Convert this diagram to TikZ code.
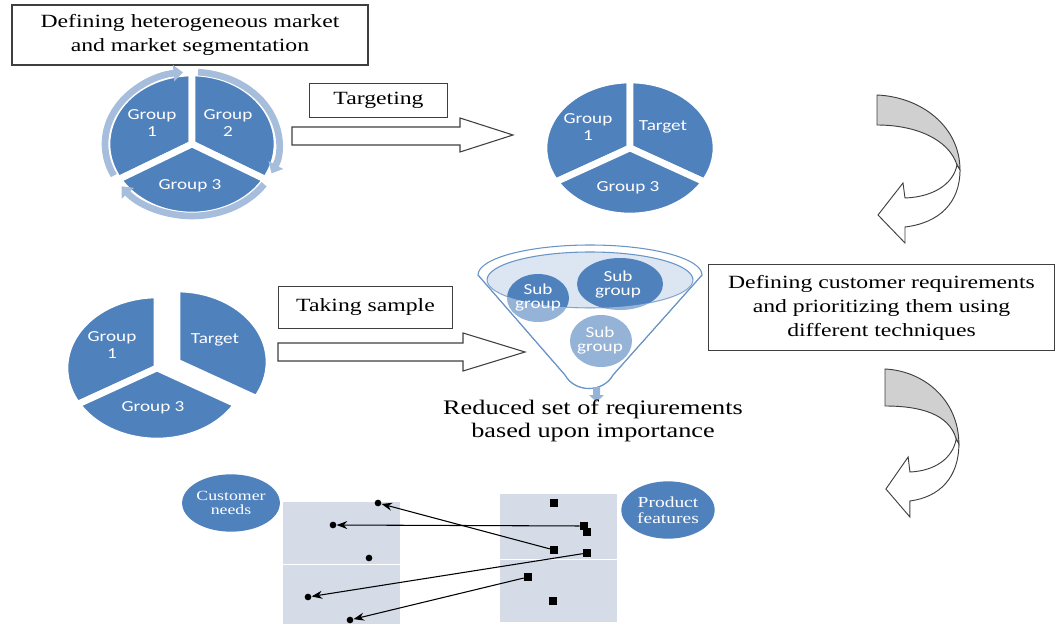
\documentclass[tikz,border=0pt]{standalone}
\usepackage{fontspec}
\setmainfont[FakeStretch=1.27]{Liberation Serif}
\newfontfamily\piefont[FakeStretch=1.25]{Carlito}
\usetikzlibrary{arrows.meta}
\usetikzlibrary{shapes.geometric}
\definecolor{pieblue}{HTML}{4F81BD}
\definecolor{ringblue}{HTML}{A6BDDB}
\definecolor{lightblue}{HTML}{95B3D7}
\definecolor{rimfill}{HTML}{DCE6F2}
\definecolor{panel}{HTML}{D5DCE8}
\definecolor{bandgray}{HTML}{D0D0D0}
\definecolor{edgegray}{HTML}{3F3F3F}

\begin{document}
\begin{tikzpicture}[x=0.75pt, y=-0.75pt,
    textbox/.style={draw=edgegray, line width=0.9pt, fill=white, align=center,
        inner sep=0pt, font=\fontsize{14}{18}\selectfont},
    slice/.style={fill=pieblue, draw=white, line width=5pt, line join=round},
    slicetext/.style={text=white, align=center, inner sep=0pt,
        font=\piefont\fontsize{11.5}{12.5}\selectfont},
    subtext/.style={text=white, align=center, inner sep=0pt,
        font=\piefont\fontsize{11.5}{10.5}\selectfont},
    ring/.style={draw=ringblue, line width=5pt, -{Triangle[length=7pt,width=12pt]}},
    blockarrow/.style={draw=edgegray, line width=0.8pt, fill=white, line join=miter},
    funline/.style={draw=pieblue!85, line width=0.8pt},
    bubble/.style={ellipse, fill=pieblue, text=white, align=center, inner sep=0pt,
        minimum width=70pt, minimum height=43pt},
    dot/.style={circle, fill=black, inner sep=0pt, minimum size=5pt},
    sq/.style={rectangle, fill=black, inner sep=0pt, minimum size=6pt},
    link/.style={-{Stealth[length=8pt,width=6pt]}, line width=0.8pt}]
\useasboundingbox (0,0) rectangle (1057,624);

% text boxes
\node[textbox, minimum width=267pt, minimum height=45pt] (segbox) at (190,35)
    {Defining heterogeneous market\\and market segmentation};
\node[textbox, minimum width=103pt, minimum height=26pt] (targeting) at (378.5,100.5) {Targeting};
\node[textbox, minimum width=131pt, minimum height=31pt] (sample) at (365.5,307.5) {Taking sample};
\node[textbox, minimum width=260pt, minimum height=64pt] (reqbox) at (881.5,307.5)
    {Defining customer requirements\\and prioritizing them using\\different techniques};

% pie 1 with cycle ring
\coordinate (c1) at (192,144);
\filldraw[slice] (c1) -- ++(150:85 and 71) arc[start angle=150, end angle=270, x radius=85, y radius=71] -- cycle;
\filldraw[slice] (c1) -- ++(270:85 and 71) arc[start angle=270, end angle=390, x radius=85, y radius=71] -- cycle;
\filldraw[slice] (c1) -- ++(30:85 and 71) arc[start angle=30, end angle=150, x radius=85, y radius=71] -- cycle;
\draw[ring] (c1) ++(-206:87 and 72) arc[start angle=-206, end angle=-96, x radius=87, y radius=72];
\draw[ring] (c1) ++(-86:87 and 72) arc[start angle=-86, end angle=24, x radius=87, y radius=72];
\draw[ring] (c1) ++(34:87 and 72) arc[start angle=34, end angle=144, x radius=87, y radius=72];
\node[slicetext] (p1g1) at (152,123) {Group\\1};
\node[slicetext] (p1g2) at (228,123) {Group\\2};
\node[slicetext] (p1g3) at (190,186) {Group 3};

% targeting arrow
\filldraw[blockarrow] (292,127) -- (460,127) -- (460,118) -- (513,135) -- (460,152) -- (460,145) -- (292,145) -- cycle;

% pie 2
\coordinate (c2) at (630,148);
\filldraw[slice] (c2) -- ++(150:86 and 68) arc[start angle=150, end angle=270, x radius=86, y radius=68] -- cycle;
\filldraw[slice] (c2) -- ++(270:86 and 68) arc[start angle=270, end angle=390, x radius=86, y radius=68] -- cycle;
\filldraw[slice] (c2) -- ++(30:86 and 68) arc[start angle=30, end angle=150, x radius=86, y radius=68] -- cycle;
\node[slicetext] (p2g1) at (588,127) {Group\\1};
\node[slicetext] (p2t) at (663,127) {Target};
\node[slicetext] (p2g3) at (628,188) {Group 3};

% curved arrows on the right
\foreach \ox/\oy/\sx/\bw in {877/95/1/30, 885/369/0.89/37} {
  \begin{scope}[shift={(\ox,\oy)}, xscale=\sx]
    \filldraw[fill=bandgray, draw=edgegray, line width=0.7pt]
      (0,0) .. controls (45,2) and (83,32) .. (83,75) -- (80,70)
      .. controls (72,45) and (40,\bw) .. (0,\bw) -- cycle;
    \filldraw[fill=white, draw=edgegray, line width=0.7pt]
      (80,70) .. controls (76,90) and (55,102) .. (28,103) -- (26,88) -- (1,120)
      -- (28,148) -- (28,132) .. controls (62,128) and (83,108) .. (83,75) -- cycle;
  \end{scope}
}

% pie 3, target pulled out
\coordinate (c3) at (157,368);
\coordinate (c3t) at (177,362);
\filldraw[slice] (c3) -- ++(150:92 and 73) arc[start angle=150, end angle=270, x radius=92, y radius=73] -- cycle;
\filldraw[slice] (c3t) -- ++(270:92 and 73) arc[start angle=270, end angle=390, x radius=92, y radius=73] -- cycle;
\filldraw[slice] (c3) -- ++(30:92 and 73) arc[start angle=30, end angle=150, x radius=92, y radius=73] -- cycle;
\node[slicetext] (p3g1) at (112,345) {Group\\1};
\node[slicetext] (p3t) at (215,340) {Target};
\node[slicetext] (p3g3) at (153,408) {Group 3};

% sampling arrow
\filldraw[blockarrow] (278,343) -- (463,343) -- (463,333) -- (525,352) -- (463,371) -- (463,361) -- (278,361) -- cycle;

% funnel
\filldraw[funline, fill=white] (478,275) -- (565,375) .. controls (575,393) and (603,393) .. (613,375)
    -- (702,275) arc[start angle=0, end angle=-180, x radius=112, y radius=30] -- cycle;
\filldraw[funline, fill=rimfill] (590,280) ellipse [x radius=103, y radius=28];
\fill[pieblue] (538,298) ellipse [x radius=31, y radius=24];
\fill[pieblue] (620,284) ellipse [x radius=43, y radius=26];
\fill[pieblue] (601,341) ellipse [x radius=31, y radius=26];
\fill[white, opacity=0.4] (478,275) -- (487,280) arc[start angle=180, end angle=0, x radius=103, y radius=28]
    -- (702,275) -- (613,375) .. controls (603,393) and (575,393) .. (565,375) -- cycle;
\draw[funline] (478,275) -- (565,375) .. controls (575,393) and (603,393) .. (613,375) -- (702,275);
\node[subtext] (sub1) at (538,297) {Sub\\group};
\node[subtext] (sub2) at (618,284) {Sub\\group};
\node[subtext] (sub3) at (600,340) {Sub\\group};
\fill[lightblue] (593,387) -- (600,387) -- (600,395) -- (604,395) -- (596.5,402) -- (589,395) -- (593,395) -- cycle;
\node[align=center, inner sep=0pt, font=\fontsize{15.5}{17.5}\selectfont] (reduced) at (593,421)
    {Reduced set of reqiurements\\based upon importance};

% needs and features
\fill[panel] (283,502) rectangle (400,563.5);
\fill[panel] (283,565) rectangle (400,624);
\fill[panel] (500,494) rectangle (617,558.5);
\fill[panel] (500,560) rectangle (617,622);
\node[bubble, font=\fontsize{10.5}{11}\selectfont] (needs) at (231,503) {Customer\\needs};
\node[bubble, font=\fontsize{11.5}{12}\selectfont] (features) at (668,510) {Product\\features};

\node[dot] (l1) at (378,503) {};
\node[dot] (l2) at (333,525) {};
\node[dot] (l3) at (369,558) {};
\node[dot] (l4) at (308,597) {};
\node[dot] (l5) at (350,620) {};
\node[sq] (r1) at (554,503) {};
\node[sq] (r2) at (584,526) {};
\node[sq] (r2b) at (587,532) {};
\node[sq] (r3) at (554,550) {};
\node[sq] (r4) at (587,553) {};
\node[sq] (r5) at (528,577) {};
\node[sq] (r6) at (553,601) {};

\draw[link] (r2) -- (l2);
\draw[link] (r3) -- (l1);
\draw[link] (r4) -- (l4);
\draw[link] (r5) -- (l5);
\end{tikzpicture}
\end{document}
